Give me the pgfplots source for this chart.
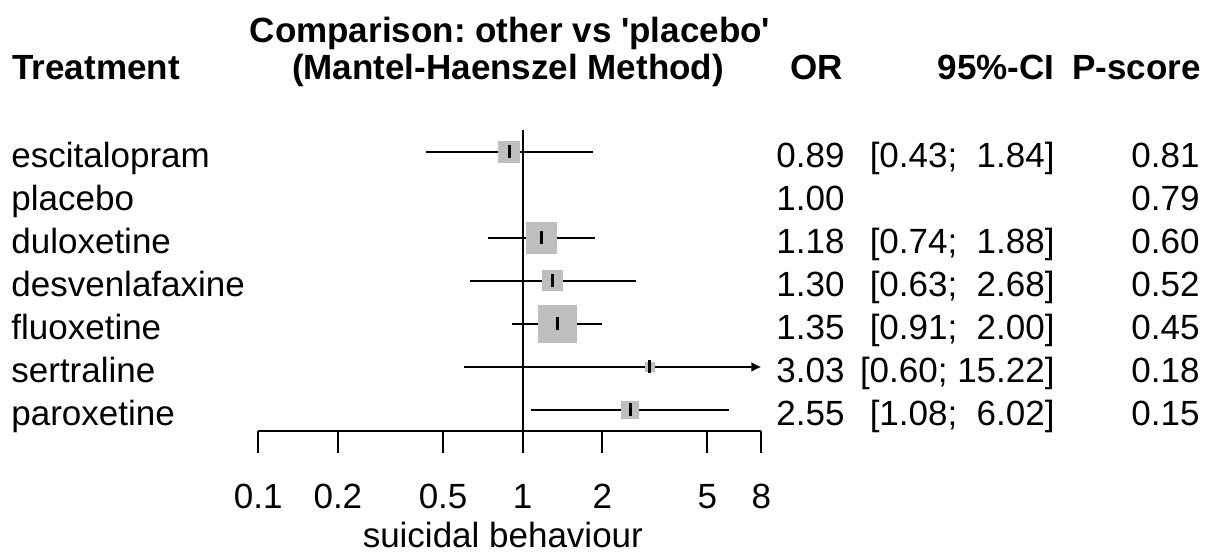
\documentclass[border=0pt]{standalone}
\usepackage{fontspec}
\setmainfont{Liberation Sans}
\usepackage{pgfplots}
\pgfplotsset{compat=1.18}
\usetikzlibrary{arrows.meta}
\definecolor{boxgray}{HTML}{BEBEBE}
\newcommand{\ff}{\fontsize{17.5}{20}\selectfont}
\frenchspacing
\begin{document}
\begin{tikzpicture}
\begin{scope}[shift={(0pt,278pt)}, x=0.5pt, y=-0.5pt]
\useasboundingbox (0,0) rectangle (1214,556);
% headers
\node[anchor=base west, inner sep=0pt, font=\ff\bfseries] at (12,80) {Treatment};
\node[anchor=base, inner sep=0pt, font=\ff\bfseries] at (510,43) {Comparison: other vs \textquotesingle placebo\textquotesingle};
\node[anchor=base, inner sep=0pt, font=\ff\bfseries] at (508,80) {(Mantel-Haenszel Method)};
\node[anchor=base east, inner sep=0pt, font=\ff\bfseries] at (843,80) {OR};
\node[anchor=base east, inner sep=0pt, font=\ff\bfseries] at (1055,80) {95\%-CI};
\node[anchor=base east, inner sep=0pt, font=\ff\bfseries] at (1201,80) {P-score};
% rows
\foreach \nm/\orv/\ci/\ps [count=\i] in {
  escitalopram/0.89/{[0.43;~~1.84]}/0.81,
  placebo/1.00/{}/0.79,
  duloxetine/1.18/{[0.74;~~1.88]}/0.60,
  desvenlafaxine/1.30/{[0.63;~~2.68]}/0.52,
  fluoxetine/1.35/{[0.91;~~2.00]}/0.45,
  sertraline/3.03/{[0.60; 15.22]}/0.18,
  paroxetine/2.55/{[1.08;~~6.02]}/0.15} {
  \pgfmathsetmacro{\yb}{152.3+43*(\i-1)+15}
  \node[anchor=base west, inner sep=0pt, font=\ff] at (11,\yb) {\nm};
  \node[anchor=base east, inner sep=0pt, font=\ff] at (845,\yb) {\orv};
  \node[anchor=base east, inner sep=0pt, font=\ff] at (1055,\yb) {\ci};
  \node[anchor=base east, inner sep=0pt, font=\ff] at (1200,\yb) {\ps};
}
\end{scope}
\begin{axis}[
  at={(129.15pt,62.25pt)}, anchor=south west,
  scale only axis, width=251.55pt, height=150.5pt,
  xmode=log, xmin=0.1, xmax=8, ymin=-7.5, ymax=-0.5,
  axis x line*=bottom, axis y line=none,
  x axis line style={line width=1pt, black},
  xtick={0.1,0.2,0.5,1,2,5,8},
  xticklabels={0.1,0.2,0.5,1,2,5,8},
  xminorticks=false,
  tick align=outside, major tick length=10.5pt,
  major tick style={line width=1pt, black},
  xticklabel style={font=\ff, anchor=base, yshift=-28pt},
  xlabel={suicidal behaviour},
  xlabel style={font=\ff, anchor=base, at={(axis description cs:0.5,0)}, yshift=-58pt, xshift=-3.5pt},
  clip=false,
]
% reference line
\addplot[black, line width=1pt] coordinates {(1,-0.5) (1,-7.5)};
% squares (weights)
\addplot[boxgray, only marks, mark=square*, mark size=5.25pt, mark options={fill=boxgray, draw=boxgray, line width=0pt}] coordinates {(0.89,-1)};
\addplot[boxgray, only marks, mark=square*, mark size=7.6pt, mark options={fill=boxgray, draw=boxgray, line width=0pt}] coordinates {(1.18,-3)};
\addplot[boxgray, only marks, mark=square*, mark size=5pt, mark options={fill=boxgray, draw=boxgray, line width=0pt}] coordinates {(1.30,-4)};
\addplot[boxgray, only marks, mark=square*, mark size=9.45pt, mark options={fill=boxgray, draw=boxgray, line width=0pt}] coordinates {(1.35,-5)};
\addplot[boxgray, only marks, mark=square*, mark size=2.25pt, mark options={fill=boxgray, draw=boxgray, line width=0pt}] coordinates {(3.03,-6)};
\addplot[boxgray, only marks, mark=square*, mark size=4.4pt, mark options={fill=boxgray, draw=boxgray, line width=0pt}] coordinates {(2.55,-7)};
% confidence intervals
\addplot[black, line width=1pt] coordinates {(0.43,-1) (1.84,-1)};
\addplot[black, line width=1pt] coordinates {(0.74,-3) (1.88,-3)};
\addplot[black, line width=1pt] coordinates {(0.63,-4) (2.68,-4)};
\addplot[black, line width=1pt] coordinates {(0.91,-5) (2.00,-5)};
\addplot[black, line width=1pt, -{Latex[length=5pt,width=5pt]}] coordinates {(0.60,-6) (8,-6)};
\addplot[black, line width=1pt] coordinates {(1.08,-7) (6.02,-7)};
% point estimates
\addplot[black, only marks, mark=|, mark size=3.25pt, mark options={line width=1.5pt, black}] coordinates {
(0.89,-1) (1.18,-3) (1.30,-4) (1.35,-5) (3.03,-6) (2.55,-7)};
\end{axis}
\end{tikzpicture}
\end{document}
